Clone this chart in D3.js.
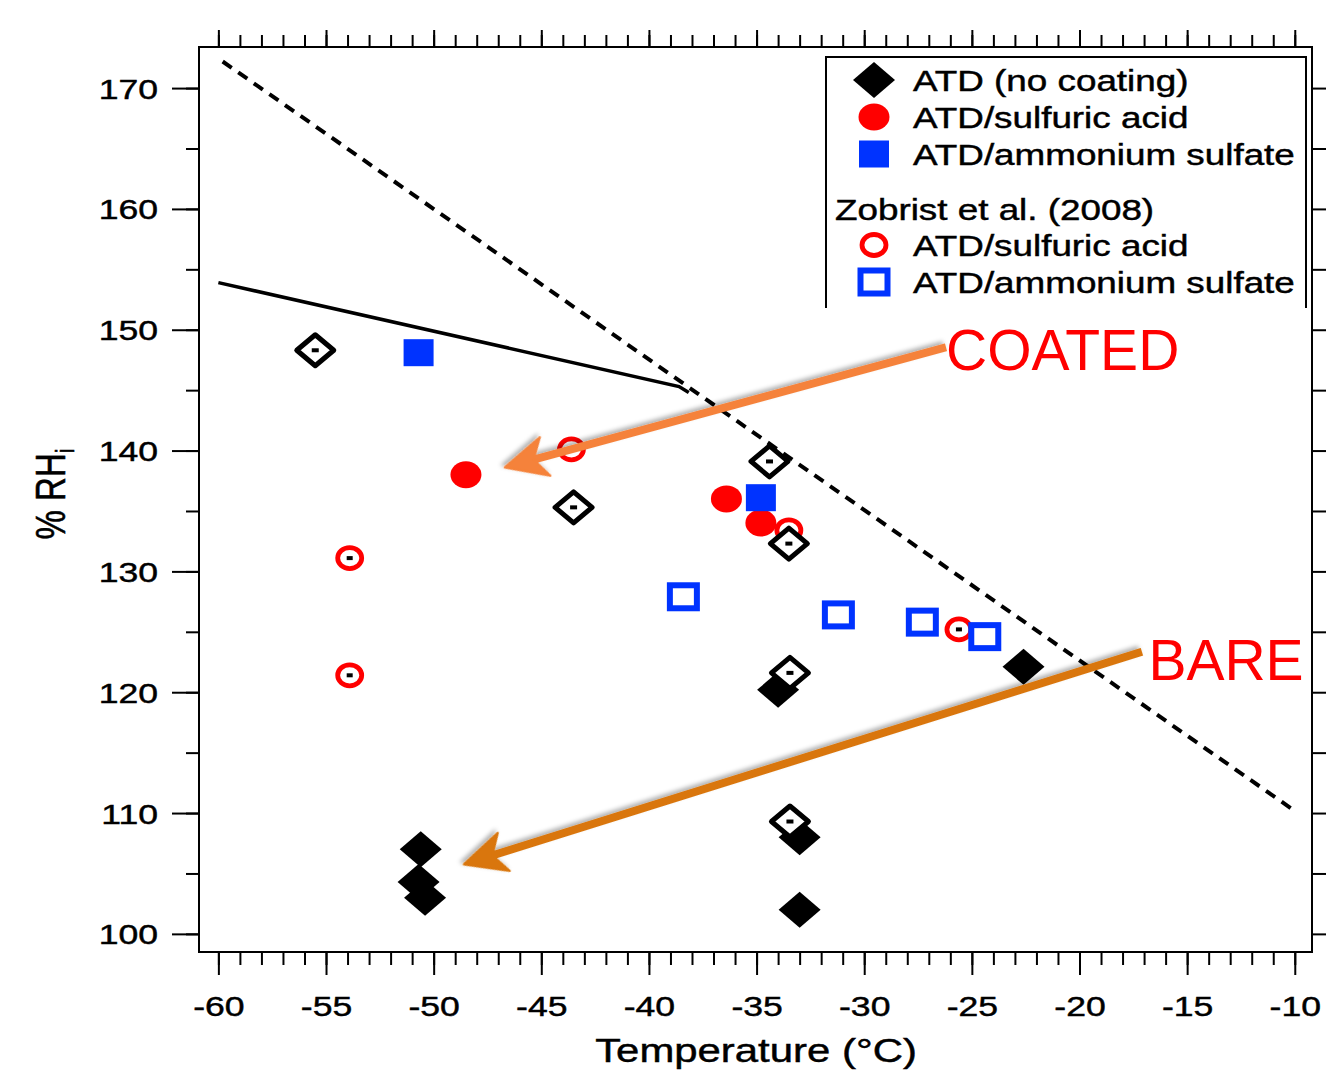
<!DOCTYPE html>
<html>
<head>
<meta charset="utf-8">
<script src="https://d3js.org/d3.v7.min.js"></script>
<style>
  html, body { margin: 0; padding: 0; background: #fff; }
  svg { display: block; font-family: "Liberation Sans", Arial, sans-serif; }
  .heavy { stroke: #000; stroke-width: 0.45; }
</style>
</head>
<body>
<svg id="chart" width="1326" height="1074"></svg>
<script>
// data: [temperature °C, %RHi]
const atdNoCoating = [[-50.6, 107.0], [-50.7, 104.3], [-50.4, 103.0], [-34.0, 120.2], [-33.0, 108.0], [-33.0, 102.0], [-22.6, 122.1]];
const atdSulfuric = [[-48.5, 138.0], [-36.4, 136.0], [-34.8, 134.0]];
const atdAmmSulfate = [[-50.7, 148.1], [-34.8, 136.1]];
const zobristSulfuric = [[-43.6, 140.1], [-53.9, 131.1], [-53.9, 121.4], [-33.5, 133.4], [-25.6, 125.2]];
const zobristAmmSulfate = [[-38.4, 127.9], [-31.2, 126.4], [-27.3, 125.8], [-24.4, 124.6]];
const atdDotted = [[-55.5, 148.3], [-43.5, 135.3], [-34.4, 139.1], [-33.5, 132.3], [-33.45, 121.6], [-33.45, 109.3]];

// lines
const solidLine = [[-60, 153.9], [-38.6, 145.3], [-38.15, 144.8]];
const dashedLine = [[-59.8, 172.2], [-10.1, 110.3]];

// ticks
const xMajor = d3.range(-60, -9, 5);
const xMinor = d3.range(-60, -9, 1);
const yMajor = d3.range(100, 171, 10);
const yMinor = d3.range(100, 171, 5);

const legendItems = ["ATD (no coating)", "ATD/sulfuric acid", "ATD/ammonium sulfate"];
const legendZobrist = ["ATD/sulfuric acid", "ATD/ammonium sulfate"];

// annotations: label, text position, arrow start, arrow tip (data units)
const annotations = [
  { label: "COATED", text: [-26.2, 146.7], from: [-26.2, 148.55], to: [-46.7, 138.6], color: "#f5823a" },
  { label: "BARE", text: [-16.8, 121.0], from: [-17.1, 123.35], to: [-48.6, 105.75], color: "#d9760c" }
];

const svg = d3.select("#chart");
const SX = 1.27; // horizontal stretch of the original figure text

const x = d3.scaleLinear().domain([-60.9, -9.2]).range([199, 1312]);
const y = d3.scaleLinear().domain([98.5, 173.4]).range([952, 47]);

const defs = svg.append("defs");
defs.append("filter").attr("id", "shadow")
  .attr("x", "-10%").attr("y", "-10%").attr("width", "130%").attr("height", "130%")
  .append("feDropShadow")
  .attr("dx", 2).attr("dy", 3).attr("stdDeviation", 2)
  .attr("flood-color", "#000").attr("flood-opacity", 0.3);

// axes
function styleAxis(g) {
  g.select(".domain").remove();
  g.selectAll("line").attr("stroke", "#000").attr("stroke-width", 2);
}

svg.append("g").attr("transform", "translate(0,952)")
  .call(d3.axisBottom(x).tickValues(xMinor).tickSize(13).tickFormat(""))
  .call(styleAxis);
const xAxis = svg.append("g").attr("transform", "translate(0,952)")
  .call(d3.axisBottom(x).tickValues(xMajor).tickSize(23).tickFormat(d3.format("d")))
  .call(styleAxis);
xAxis.selectAll("text")
  .attr("class", "heavy")
  .attr("font-size", 28).attr("fill", "#000")
  .attr("y", 64).attr("dy", 0)
  .attr("transform", `scale(${SX},1)`)
  .text(d => d3.format("d")(d).replace("−", "-"));

svg.append("g").attr("transform", "translate(0,47)")
  .call(d3.axisTop(x).tickValues(xMinor).tickSize(12).tickFormat(""))
  .call(styleAxis);
svg.append("g").attr("transform", "translate(0,47)")
  .call(d3.axisTop(x).tickValues(xMajor).tickSize(17).tickFormat(""))
  .call(styleAxis);

svg.append("g").attr("transform", "translate(199,0)")
  .call(d3.axisLeft(y).tickValues(yMinor).tickSize(13).tickFormat(""))
  .call(styleAxis);
const yAxis = svg.append("g").attr("transform", "translate(199,0)")
  .call(d3.axisLeft(y).tickValues(yMajor).tickSize(27).tickFormat(d3.format("d")))
  .call(styleAxis);
yAxis.selectAll("text")
  .attr("class", "heavy")
  .attr("font-size", 28).attr("fill", "#000")
  .attr("x", -41 / SX).attr("dy", "0.36em")
  .attr("transform", `scale(${SX},1)`);

svg.append("g").attr("transform", "translate(1312,0)")
  .call(d3.axisRight(y).tickValues(yMinor).tickSize(14).tickFormat(""))
  .call(styleAxis);

// frame
svg.append("rect")
  .attr("x", x.range()[0]).attr("y", y.range()[1])
  .attr("width", x.range()[1] - x.range()[0]).attr("height", y.range()[0] - y.range()[1])
  .attr("fill", "none").attr("stroke", "#000").attr("stroke-width", 2);

// axis titles
svg.append("text").attr("class", "heavy")
  .attr("transform", `translate(756,1062) scale(${SX},1)`)
  .attr("text-anchor", "middle").attr("font-size", 33)
  .text("Temperature (°C)");

const yTitle = svg.append("text").attr("class", "heavy")
  .attr("transform", `translate(65,494) rotate(-90) scale(1,${SX})`)
  .attr("text-anchor", "middle").attr("font-size", 33);
yTitle.append("tspan").text("% RH");
yTitle.append("tspan").attr("font-size", 21).attr("dy", 7).text("i");

// lines
const line = d3.line().x(d => x(d[0])).y(d => y(d[1]));
svg.append("path").datum(solidLine)
  .attr("d", line).attr("fill", "none").attr("stroke", "#000").attr("stroke-width", 3.5);
svg.append("path").datum(dashedLine)
  .attr("d", line).attr("fill", "none").attr("stroke", "#000").attr("stroke-width", 4)
  .attr("stroke-dasharray", "11,8");

// marker shapes
const diamondPath = (a, b) => `M0,${-b}L${a},0L0,${b}L${-a},0Z`;

function filledDiamond(g) {
  g.append("path").attr("d", diamondPath(21, 18)).attr("fill", "#000");
}
function filledCircle(g) {
  g.append("ellipse").attr("rx", 15.5).attr("ry", 13.5).attr("fill", "#ff0000");
}
function filledSquare(g) {
  g.append("rect").attr("x", -15).attr("y", -13.5).attr("width", 30).attr("height", 27).attr("fill", "#0033ff");
}
function openCircle(g, dot) {
  g.append("ellipse").attr("rx", 12).attr("ry", 10.5).attr("fill", "#fff")
    .attr("stroke", "#ff0000").attr("stroke-width", 4.8);
  if (dot) g.append("rect").attr("x", -3).attr("y", -2).attr("width", 6).attr("height", 4).attr("fill", "#000");
}
function openSquare(g) {
  g.append("rect").attr("x", -13.5).attr("y", -11.5).attr("width", 27).attr("height", 23).attr("fill", "#fff")
    .attr("stroke", "#0033ff").attr("stroke-width", 6);
}
function openDiamond(g) {
  g.append("path").attr("d", diamondPath(18.5, 15.5)).attr("fill", "#fff")
    .attr("stroke", "#000").attr("stroke-width", 5).attr("stroke-linejoin", "round");
  g.append("rect").attr("x", -3.5).attr("y", -2).attr("width", 7).attr("height", 4).attr("fill", "#000");
}

function drawSeries(data, shape) {
  svg.append("g").selectAll("g").data(data).join("g")
    .attr("transform", d => `translate(${x(d[0])},${y(d[1])})`)
    .each(function () { shape(d3.select(this), true); });
}

drawSeries(atdNoCoating, filledDiamond);
drawSeries(atdSulfuric, filledCircle);
drawSeries(atdAmmSulfate, filledSquare);
drawSeries(zobristSulfuric, openCircle);
drawSeries(zobristAmmSulfate, openSquare);
drawSeries(atdDotted, openDiamond);

// legend
const legend = svg.append("g");
legend.append("rect").attr("x", 826).attr("y", 57).attr("width", 480).attr("height", 252).attr("fill", "#fff");
legend.append("path").attr("d", "M826,308V57H1306V308")
  .attr("fill", "none").attr("stroke", "#000").attr("stroke-width", 2);

const legendShapes = [filledDiamond, filledCircle, filledSquare];
legendItems.forEach((label, i) => {
  const cy = 80 + i * 37;
  legendShapes[i](legend.append("g").attr("transform", `translate(874,${cy})`));
  legend.append("text").attr("class", "heavy")
    .attr("transform", `translate(913,${cy + 11}) scale(${SX},1)`)
    .attr("font-size", 29).text(label);
});
legend.append("text").attr("class", "heavy")
  .attr("transform", `translate(835,220) scale(${SX},1)`)
  .attr("font-size", 29).text("Zobrist et al. (2008)");
const zobShapes = [g => openCircle(g, false), openSquare];
legendZobrist.forEach((label, i) => {
  const cy = 245 + i * 37;
  zobShapes[i](legend.append("g").attr("transform", `translate(874,${cy})`));
  legend.append("text").attr("class", "heavy")
    .attr("transform", `translate(913,${cy + 11}) scale(${SX},1)`)
    .attr("font-size", 29).text(label);
});

// annotation arrows
annotations.forEach(a => {
  const x0 = x(a.from[0]), y0 = y(a.from[1]);
  const x1 = x(a.to[0]), y1 = y(a.to[1]);
  const ang = Math.atan2(y1 - y0, x1 - x0) * 180 / Math.PI;
  const len = Math.hypot(x1 - x0, y1 - y0);
  const g = svg.append("g").attr("filter", "url(#shadow)")
    .attr("transform", `translate(${x0},${y0}) rotate(${ang})`);
  g.append("line").attr("x1", 0).attr("y1", 0).attr("x2", len - 20).attr("y2", 0)
    .attr("stroke", a.color).attr("stroke-width", 8);
  g.append("path")
    .attr("d", `M${len},0L${len - 42},-20L${len - 30},0L${len - 42},20Z`)
    .attr("fill", a.color).attr("stroke", a.color).attr("stroke-width", 2).attr("stroke-linejoin", "round");
  svg.append("text").attr("x", x(a.text[0])).attr("y", y(a.text[1]))
    .attr("font-size", 57).attr("fill", "#ff0000").text(a.label);
});
</script>
</body>
</html>
